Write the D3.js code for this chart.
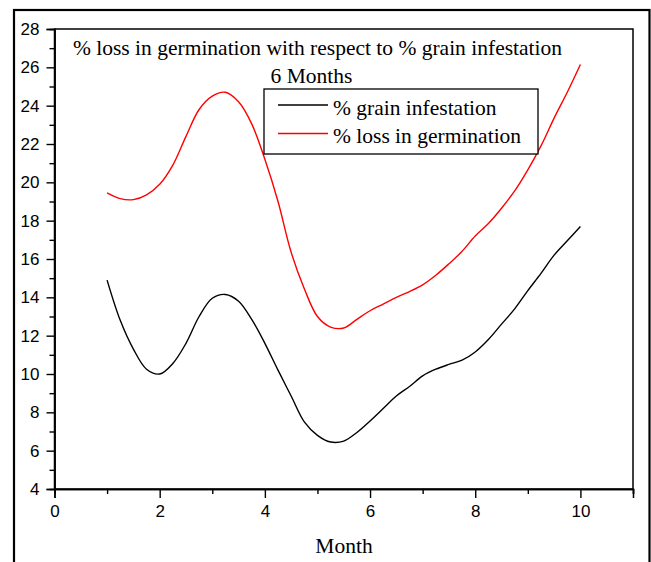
<!DOCTYPE html>
<html>
<head>
<meta charset="utf-8">
<script src="https://cdn.jsdelivr.net/npm/d3@7"></script>
<style>
  html, body { margin: 0; padding: 0; background: #fff; }
  svg { display: block; }
</style>
</head>
<body>
<svg id="chart" width="651" height="562"></svg>
<script>
const months = [1.00,1.25,1.50,1.75,2.00,2.25,2.50,2.75,3.00,3.25,3.50,3.75,4.00,4.25,4.50,4.75,5.00,5.25,5.50,5.75,6.00,6.25,6.50,6.75,7.00,7.25,7.50,7.75,8.00,8.25,8.50,8.75,9.00,9.25,9.50,9.75,10.00];
const grainInfestation = [14.9,12.8,11.3,10.25,10.0,10.55,11.6,13.0,13.95,14.15,13.8,12.85,11.6,10.2,8.85,7.5,6.8,6.45,6.5,6.95,7.55,8.2,8.85,9.35,9.9,10.25,10.5,10.72,11.15,11.8,12.6,13.4,14.35,15.25,16.2,16.95,17.7];
const lossGermination = [19.45,19.15,19.1,19.35,19.9,20.9,22.4,23.8,24.5,24.7,24.2,23.05,21.2,19.0,16.35,14.45,13.0,12.45,12.4,12.85,13.3,13.65,14.0,14.3,14.65,15.15,15.75,16.4,17.2,17.85,18.65,19.55,20.65,21.9,23.35,24.7,26.15];
const seriesNames = ["% grain infestation", "% loss in germination"];
const seriesColors = ["#000000", "#ff0000"];
const xMajorTicks = [0,2,4,6,8,10];
const xMinorTicks = [1,3,5,7,9,11];
const yMajorTicks = [4,6,8,10,12,14,16,18,20,22,24,26,28];
const yMinorTicks = [5,7,9,11,13,15,17,19,21,23,25,27];
const titleLine1 = "% loss in germination with respect to % grain infestation";
const titleLine2 = "6 Months";
const xLabel = "Month";

const svg = d3.select("#chart");
const L = 54.5, R = 633, T = 29, B = 489;
const x = d3.scaleLinear().domain([0, 11]).range([L, R]);
const y = d3.scaleLinear().domain([4, 28]).range([B, T]);

// outer frame
svg.append("rect").attr("x", 14).attr("y", 10).attr("width", 635.5).attr("height", 620)
  .attr("fill", "none").attr("stroke", "#000").attr("stroke-width", 2.2);

// plot box
svg.append("rect").attr("x", L).attr("y", T).attr("width", R - L).attr("height", B - T)
  .attr("fill", "none").attr("stroke", "#000").attr("stroke-width", 1.5);

// x axis
svg.append("g").attr("transform", `translate(0,${B})`)
  .call(d3.axisBottom(x).tickValues(xMajorTicks).tickSize(9).tickPadding(7).tickFormat(d3.format("d")));
svg.append("g").attr("transform", `translate(0,${B})`)
  .call(d3.axisBottom(x).tickValues(xMinorTicks).tickSize(5).tickFormat(""));
// y axis
svg.append("g").attr("transform", `translate(${L},0)`)
  .call(d3.axisLeft(y).tickValues(yMajorTicks).tickSize(8).tickPadding(7).tickFormat(d3.format("d")));
svg.append("g").attr("transform", `translate(${L},0)`)
  .call(d3.axisLeft(y).tickValues(yMinorTicks).tickSize(5).tickFormat(""));

svg.selectAll(".domain").attr("stroke", "#000").attr("stroke-width", 1.5);
svg.selectAll(".tick line").attr("stroke", "#000").attr("stroke-width", 1.4);
svg.selectAll(".tick text").attr("font-family", "'Liberation Sans', Arial, sans-serif")
  .attr("font-size", 17).attr("fill", "#000");

// lines
const line = d3.line().x((d, i) => x(months[i])).y(d => y(d)).curve(d3.curveCatmullRom.alpha(0.5));
[grainInfestation, lossGermination].forEach((s, k) => {
  svg.append("path").datum(s).attr("d", line).attr("fill", "none")
    .attr("stroke", seriesColors[k]).attr("stroke-width", 1.4);
});

// title
const serif = "'Liberation Serif', 'Times New Roman', serif";
svg.append("text").attr("x", 317.5).attr("y", 55).attr("text-anchor", "middle")
  .attr("font-family", serif).attr("font-size", 21.5).text(titleLine1);
svg.append("text").attr("x", 311.5).attr("y", 83).attr("text-anchor", "middle")
  .attr("font-family", serif).attr("font-size", 21.5).text(titleLine2);

// legend
const lg = svg.append("g");
lg.append("rect").attr("x", 264).attr("y", 89).attr("width", 274).attr("height", 65)
  .attr("fill", "#fff").attr("stroke", "#000").attr("stroke-width", 1.3);
seriesNames.forEach((n, i) => {
  const yy = 105 + i * 28.5;
  lg.append("line").attr("x1", 278).attr("x2", 328).attr("y1", yy).attr("y2", yy)
    .attr("stroke", seriesColors[i]).attr("stroke-width", 1.4);
  lg.append("text").attr("x", 333).attr("y", yy + 9.5).attr("font-family", serif)
    .attr("font-size", 21.5).text(n);
});

// x label
svg.append("text").attr("x", 344).attr("y", 553).attr("text-anchor", "middle")
  .attr("font-family", serif).attr("font-size", 21.5).text(xLabel);
</script>
</body>
</html>
